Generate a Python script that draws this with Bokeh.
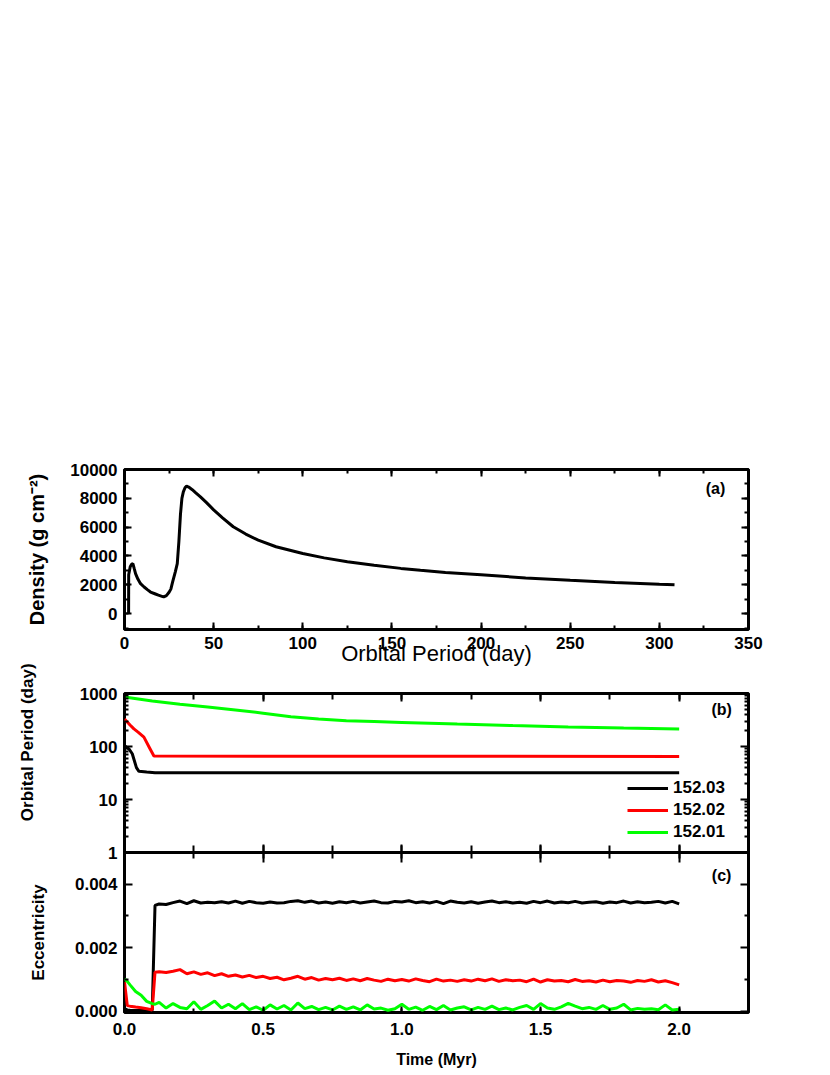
from bokeh.plotting import figure
from bokeh.models import (Range1d, LinearAxis, LogAxis, FixedTicker, SingleIntervalTicker,
                          PrintfTickFormatter, Label, Legend, LegendItem)
from bokeh.layouts import column
from bokeh.embed import file_html
from bokeh.resources import INLINE

FONT = "Liberation Sans"

# ---------------- data ----------------
# panel (a): surface density vs orbital period
period_days = [2.3, 2.35, 3.2, 4.0, 4.7, 5.5, 6.2, 7.5, 9, 11, 13, 14.6, 17, 19, 21, 22,
               23.5, 25, 26, 27, 28.5, 29.6, 30.5, 31.4, 32.2, 33, 34, 34.8, 36, 38, 40,
               42.6, 46, 50, 55, 61, 68, 75, 85, 100, 112, 125, 140, 155, 166, 180, 200,
               225, 250, 275, 300, 308.5]
density = [0, 2700, 3250, 3420, 3470, 3100, 2780, 2400, 2080, 1850, 1650, 1500, 1380, 1280,
           1200, 1160, 1250, 1480, 1700, 2200, 2900, 3470, 5000, 6900, 8000, 8450, 8750,
           8840, 8780, 8600, 8380, 8100, 7700, 7200, 6650, 6030, 5520, 5100, 4640, 4170,
           3870, 3600, 3350, 3140, 3010, 2860, 2690, 2480, 2310, 2165, 2040, 2005]

# panel (b): orbital period vs time
per_black_t = [0, 0.016, 0.028, 0.043, 0.052, 0.08, 0.11, 2.0]
per_black = [104, 90, 73, 40, 34, 33, 32, 32]
per_red_t = [0, 0.02, 0.034, 0.05, 0.07, 0.09, 0.106, 2.0]
per_red = [330, 255, 215, 185, 150, 95, 66, 65]
per_green_t = [0, 0.1, 0.2, 0.3, 0.4, 0.5, 0.6, 0.7, 0.8, 0.9, 1.0, 1.2, 1.4, 1.6, 1.8, 2.0]
per_green = [860, 720, 625, 555, 490, 425, 365, 332, 305, 295, 285, 265, 248, 234, 224, 215]

# panel (c): eccentricity vs time
ecc_time = [0, 0.01, 0.02, 0.04, 0.06, 0.08, 0.1, 0.11] + [round(0.125 + 0.025 * i, 3) for i in range(76)]
ecc_black = [0.00008, 0.00004, 0.00003, 0.00002, 0.00002, 0.00002, 0.00003, 0.00333,
    0.00338, 0.00336, 0.00342, 0.00347,
    0.00339, 0.00348, 0.00341, 0.00343,
    0.00342, 0.00345, 0.00341, 0.00347,
    0.00340, 0.00346, 0.00342, 0.00340,
    0.00344, 0.00341, 0.00342, 0.00346,
    0.00348, 0.00343, 0.00347, 0.00341,
    0.00344, 0.00340, 0.00345, 0.00342,
    0.00346, 0.00341, 0.00344, 0.00347,
    0.00342, 0.00341, 0.00346, 0.00344,
    0.00348, 0.00342, 0.00345, 0.00341,
    0.00346, 0.00339, 0.00347, 0.00343,
    0.00341, 0.00345, 0.00340, 0.00344,
    0.00347, 0.00342, 0.00345, 0.00341,
    0.00343, 0.00340, 0.00346, 0.00342,
    0.00347, 0.00341, 0.00344, 0.00342,
    0.00346, 0.00341, 0.00343, 0.00345,
    0.00340, 0.00344, 0.00342, 0.00347,
    0.00341, 0.00345, 0.00342, 0.00343,
    0.00346, 0.00341, 0.00346, 0.00338]
ecc_red = [0.00092, 0.00018, 0.00016, 0.00013, 0.00011, 0.00008, 0.00004, 0.00123,
    0.00124, 0.00122, 0.00126, 0.00131,
    0.00118, 0.00124, 0.00116, 0.00121,
    0.00112, 0.00118, 0.00110, 0.00114,
    0.00108, 0.00113, 0.00106, 0.00110,
    0.00103, 0.00107, 0.00099, 0.00104,
    0.00110, 0.00101, 0.00106, 0.00098,
    0.00103, 0.00099, 0.00104, 0.00097,
    0.00102, 0.00096, 0.00103, 0.00098,
    0.00094, 0.00101, 0.00096, 0.00100,
    0.00095, 0.00102, 0.00097, 0.00093,
    0.00101, 0.00095, 0.00098, 0.00094,
    0.00099, 0.00095, 0.00101, 0.00096,
    0.00102, 0.00094, 0.00099, 0.00096,
    0.00098, 0.00093, 0.00101, 0.00092,
    0.00099, 0.00095, 0.00097, 0.00093,
    0.00100, 0.00094, 0.00096, 0.00092,
    0.00098, 0.00093, 0.00097, 0.00095,
    0.00091, 0.00097, 0.00094, 0.00099,
    0.00092, 0.00096, 0.00090, 0.00083]
ecc_green = [0.00102, 0.00094, 0.00083, 0.00062, 0.00050, 0.00031, 0.00024, 0.00022,
    0.00028, 0.00010, 0.00024, 0.00012,
    0.00008, 0.00030, 0.00006, 0.00018,
    0.00032, 0.00010, 0.00022, 0.00008,
    0.00024, 0.00005, 0.00014, 0.00003,
    0.00020, 0.00007, 0.00018, 0.00004,
    0.00026, 0.00008, 0.00015, 0.00005,
    0.00012, 0.00004, 0.00016, 0.00006,
    0.00014, 0.00004, 0.00020, 0.00007,
    0.00010, 0.00003, 0.00008, 0.00022,
    0.00006, 0.00013, 0.00003, 0.00015,
    0.00005, 0.00018, 0.00004, 0.00010,
    0.00014, 0.00004, 0.00012, 0.00006,
    0.00016, 0.00005, 0.00010, 0.00004,
    0.00012, 0.00018, 0.00006, 0.00024,
    0.00010, 0.00006, 0.00014, 0.00025,
    0.00016, 0.00008, 0.00012, 0.00006,
    0.00018, 0.00006, 0.00010, 0.00022,
    0.00004, 0.00009, 0.00006, 0.00008,
    0.00005, 0.00020, 0.00004, 0.00006]

series_labels = ["152.03", "152.02", "152.01"]
series_colors = ["#000000", "#ff0000", "#00ff00"]

period_ticks = [1, 10, 100, 1000]
period_minor = [2, 3, 4, 5, 6, 7, 8, 9, 20, 30, 40, 50, 60, 70, 80, 90,
                200, 300, 400, 500, 600, 700, 800, 900]
ecc_ticks = [0, 0.002, 0.004]
ecc_minor = [0.001, 0.003]


# ---------------- helpers ----------------
def tick_style(ax, major=8, minor=4):
    ax.axis_line_color = None
    ax.major_tick_in = major
    ax.major_tick_out = 0
    ax.minor_tick_in = minor
    ax.minor_tick_out = 0
    ax.major_tick_line_width = 2
    ax.minor_tick_line_width = 2
    ax.major_tick_line_color = "black"
    ax.minor_tick_line_color = "black"


def label_style(ax, standoff=7):
    ax.major_label_text_font = FONT
    ax.major_label_text_font_size = "17px"
    ax.major_label_text_font_style = "bold"
    ax.major_label_text_color = "black"
    ax.major_label_standoff = standoff


def hide_labels(ax):
    ax.major_label_text_font_size = "0px"
    ax.major_label_text_alpha = 0
    ax.major_label_standoff = 0
    ax.axis_label = None


def title_style(ax, size="17px", style="bold", standoff=10):
    ax.axis_label_text_font = FONT
    ax.axis_label_text_font_size = size
    ax.axis_label_text_font_style = style
    ax.axis_label_text_color = "black"
    ax.axis_label_standoff = standoff


def frame_style(p):
    p.xgrid.visible = False
    p.ygrid.visible = False
    p.outline_line_color = "black"
    p.outline_line_width = 3
    p.background_fill_color = "white"
    p.border_fill_color = "white"


def panel_label(p, x, y, text):
    p.add_layout(Label(x=x, y=y, text=text, text_align="center", text_baseline="middle",
                       text_font=FONT, text_font_size="16px", text_font_style="bold",
                       text_color="black"))


W = 810

# ---------------- panel (a) ----------------
pa = figure(width=W, height=685, output_backend="svg", toolbar_location=None,
            x_range=Range1d(0, 350), y_range=Range1d(-1100, 10000),
            min_border_left=124, min_border_right=62, min_border_top=469, min_border_bottom=56)
frame_style(pa)
xt_a = SingleIntervalTicker(interval=50, num_minor_ticks=2)
yt_a = SingleIntervalTicker(interval=2000, num_minor_ticks=2)
pa.xaxis.ticker = xt_a
pa.yaxis.ticker = yt_a
pa.xaxis.axis_label = "Orbital Period (day)"
pa.yaxis.axis_label = "Density (g cm\u207b\u00b2)"
for ax in pa.xaxis + pa.yaxis:
    tick_style(ax, 7, 4)
    label_style(ax, 7)
title_style(pa.xaxis[0], "22px", "normal", -11)
title_style(pa.yaxis[0], "20px", "bold", 19)
ta = LinearAxis(ticker=xt_a)
ra = LinearAxis(ticker=yt_a)
for ax in (ta, ra):
    tick_style(ax, 7, 4)
    hide_labels(ax)
pa.add_layout(ta, "above")
pa.add_layout(ra, "right")
pa.line(period_days, density, line_color="black", line_width=3)
panel_label(pa, 331.5, 8700, "(a)")

# ---------------- panel (b) ----------------
xr = Range1d(0, 2.25)
xt_t = SingleIntervalTicker(interval=0.5, num_minor_ticks=2)
pb = figure(width=W, height=229, output_backend="svg", toolbar_location=None,
            x_range=xr, y_range=Range1d(1, 1000), y_axis_type="log",
            min_border_left=124, min_border_right=62, min_border_top=38, min_border_bottom=32,
            styles={"margin-top": "-30px"})
frame_style(pb)
pb.border_fill_alpha = 0
yt_b = FixedTicker(ticks=period_ticks, minor_ticks=period_minor)
pb.xaxis.ticker = xt_t
pb.yaxis.ticker = yt_b
pb.yaxis.formatter = PrintfTickFormatter(format="%d")
# leading no-break spaces lift the rotated title above the panel centre, as in the reference
pb.yaxis.axis_label = "\u00a0" * 13 + "Orbital Period (day)"
tick_style(pb.yaxis[0], 8, 4)
label_style(pb.yaxis[0], 7)
title_style(pb.yaxis[0], "17px", "bold", 40)
tick_style(pb.xaxis[0], 8, 7)
hide_labels(pb.xaxis[0])
tb = LinearAxis(ticker=xt_t)
rb = LogAxis(ticker=yt_b)
tick_style(tb, 8, 6)
tick_style(rb, 8, 4)
hide_labels(tb)
hide_labels(rb)
pb.add_layout(tb, "above")
pb.add_layout(rb, "right")
r_black = pb.line(per_black_t, per_black, line_color=series_colors[0], line_width=3)
r_red = pb.line(per_red_t, per_red, line_color=series_colors[1], line_width=3)
r_green = pb.line(per_green_t, per_green, line_color=series_colors[2], line_width=3)
legend = Legend(items=[LegendItem(label=series_labels[0], renderers=[r_black]),
                       LegendItem(label=series_labels[1], renderers=[r_red]),
                       LegendItem(label=series_labels[2], renderers=[r_green])],
                location=(503, 10), border_line_color=None, background_fill_alpha=0,
                padding=0, margin=0, spacing=2, label_height=20, glyph_height=20,
                glyph_width=41, label_standoff=5, label_text_font=FONT,
                label_text_font_size="17px", label_text_font_style="bold",
                label_text_color="black", label_text_baseline="middle")
pb.add_layout(legend)
panel_label(pb, 2.153, 500, "(b)")

# ---------------- panel (c) ----------------
pc = figure(width=W, height=220, output_backend="svg", toolbar_location=None,
            x_range=xr, y_range=Range1d(-0.00004, 0.005),
            min_border_left=124, min_border_right=62, min_border_top=0, min_border_bottom=60,
            styles={"margin-top": "-32px"})
frame_style(pc)
pc.background_fill_alpha = 0
pc.border_fill_alpha = 0
yt_c = FixedTicker(ticks=ecc_ticks, minor_ticks=ecc_minor)
pc.xaxis.ticker = xt_t
pc.yaxis.ticker = yt_c
pc.xaxis.formatter = PrintfTickFormatter(format="%.1f")
pc.yaxis.formatter = PrintfTickFormatter(format="%.3f")
pc.xaxis.axis_label = "Time (Myr)"
pc.yaxis.axis_label = "Eccentricity"
tick_style(pc.xaxis[0], 6, 4)
label_style(pc.xaxis[0], 10)
title_style(pc.xaxis[0], "16px", "bold", 13)
tick_style(pc.yaxis[0], 8, 4)
label_style(pc.yaxis[0], 7)
title_style(pc.yaxis[0], "17px", "bold", 24)
tc = LinearAxis(ticker=xt_t, fixed_location=0.005)
tick_style(tc, 10, 6)
hide_labels(tc)
pc.add_layout(tc, "above")
rc = LinearAxis(ticker=yt_c)
tick_style(rc, 8, 4)
hide_labels(rc)
pc.add_layout(rc, "right")
pc.line(ecc_time, ecc_black, line_color=series_colors[0], line_width=3)
pc.line(ecc_time, ecc_red, line_color=series_colors[1], line_width=3)
pc.line(ecc_time, ecc_green, line_color=series_colors[2], line_width=3)
panel_label(pc, 2.153, 0.00426, "(c)")

layout = column(pa, pb, pc)
open("out.html", "w").write(file_html(layout, INLINE))
